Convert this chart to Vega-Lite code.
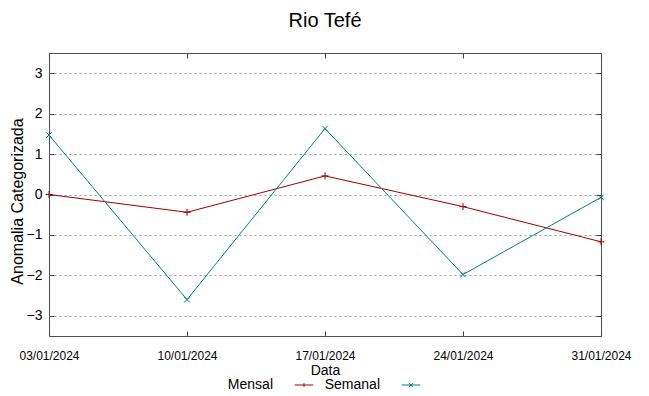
{
  "$schema": "https://vega.github.io/schema/vega-lite/v6.json",
  "width": 552,
  "height": 283,
  "autosize": "none",
  "padding": {"left": 49, "top": 53, "right": 48, "bottom": 60},
  "background": "white",
  "title": {"text": "Rio Tefé", "fontSize": 20, "font": "Liberation Sans", "fontWeight": "normal", "color": "black", "offset": 22},
  "config": {
    "font": "Liberation Sans",
    "view": {"stroke": "#505050", "strokeWidth": 1},
    "axis": {"domain": false, "tickColor": "#404040", "labelColor": "black", "titleColor": "black", "titleFontWeight": "normal"}
  },
  "data": {
    "values": [
      {"date": "03/01/2024", "serie": "Mensal", "valor": 0.0},
      {"date": "10/01/2024", "serie": "Mensal", "valor": -0.44},
      {"date": "17/01/2024", "serie": "Mensal", "valor": 0.46},
      {"date": "24/01/2024", "serie": "Mensal", "valor": -0.3},
      {"date": "31/01/2024", "serie": "Mensal", "valor": -1.17},
      {"date": "03/01/2024", "serie": "Semanal", "valor": 1.47},
      {"date": "10/01/2024", "serie": "Semanal", "valor": -2.6},
      {"date": "17/01/2024", "serie": "Semanal", "valor": 1.63},
      {"date": "24/01/2024", "serie": "Semanal", "valor": -1.98},
      {"date": "31/01/2024", "serie": "Semanal", "valor": -0.07}
    ]
  },
  "resolve": {"axis": {"x": "independent", "y": "independent"}},
  "layer": [
    {
      "mark": {"type": "line", "strokeWidth": 1},
      "encoding": {
        "x": {"field": "date", "type": "ordinal", "scale": {"type": "point", "padding": 0},
          "axis": {"orient": "bottom", "labelAngle": 0, "tickSize": -5, "labelPadding": 19, "labelFontSize": 12, "title": "Data", "titleFontSize": 14, "titlePadding": 2, "grid": false}},
        "y": {"field": "valor", "type": "quantitative", "scale": {"domain": [-3.5, 3.5], "nice": false, "zero": false},
          "axis": {"orient": "left", "values": [-3, -2, -1, 0, 1, 2, 3], "tickSize": -5, "labelPadding": 12, "labelFontSize": 14, "grid": true, "gridDash": [2, 3], "gridColor": "#a0a0a0", "title": "Anomalia Categorizada", "titleFontSize": 16, "titlePadding": 1, "titleY": 148}},
        "color": {"field": "serie", "type": "nominal", "scale": {"domain": ["Mensal", "Semanal"], "range": ["#a00000", "#008080"]},
          "legend": {"orient": "none", "legendX": 245, "legendY": 322, "direction": "horizontal", "title": null, "labelFontSize": 14, "labelColor": "black", "labelAlign": "right", "labelOffset": -41, "columnPadding": 8, "symbolType": "stroke", "symbolStrokeWidth": 1, "symbolSize": 342,
            "encode": {"symbols": {"update": {"shape": {"signal": "datum.value === 'Mensal' ? 'M-1,0H1M0,-0.2V0.2' : 'M-1,0H1M-0.2,-0.2L0.2,0.2M-0.2,0.2L0.2,-0.2'"}, "fill": {"value": "transparent"}}}}}}
      }
    },
    {
      "transform": [{"filter": "datum.serie === 'Mensal'"}],
      "mark": {"type": "point", "filled": false, "strokeWidth": 1, "size": 50, "opacity": 1, "shape": "M-1,0H1M0,-1V1"},
      "encoding": {
        "x": {"field": "date", "type": "ordinal", "scale": {"type": "point", "padding": 0},
          "axis": {"orient": "top", "labels": false, "tickSize": -5, "title": null, "grid": false}},
        "y": {"field": "valor", "type": "quantitative", "scale": {"domain": [-3.5, 3.5], "nice": false, "zero": false},
          "axis": {"orient": "right", "values": [-3, -2, -1, 0, 1, 2, 3], "labels": false, "tickSize": -5, "title": null, "grid": false}},
        "color": {"field": "serie", "type": "nominal", "legend": null}
      }
    },
    {
      "transform": [{"filter": "datum.serie === 'Semanal'"}],
      "mark": {"type": "point", "filled": false, "strokeWidth": 1, "size": 50, "opacity": 1, "shape": "M-0.8,-0.8L0.8,0.8M-0.8,0.8L0.8,-0.8"},
      "encoding": {
        "x": {"field": "date", "type": "ordinal", "scale": {"type": "point", "padding": 0}, "axis": null},
        "y": {"field": "valor", "type": "quantitative", "scale": {"domain": [-3.5, 3.5], "nice": false, "zero": false}, "axis": null},
        "color": {"field": "serie", "type": "nominal", "legend": null}
      }
    }
  ]
}
